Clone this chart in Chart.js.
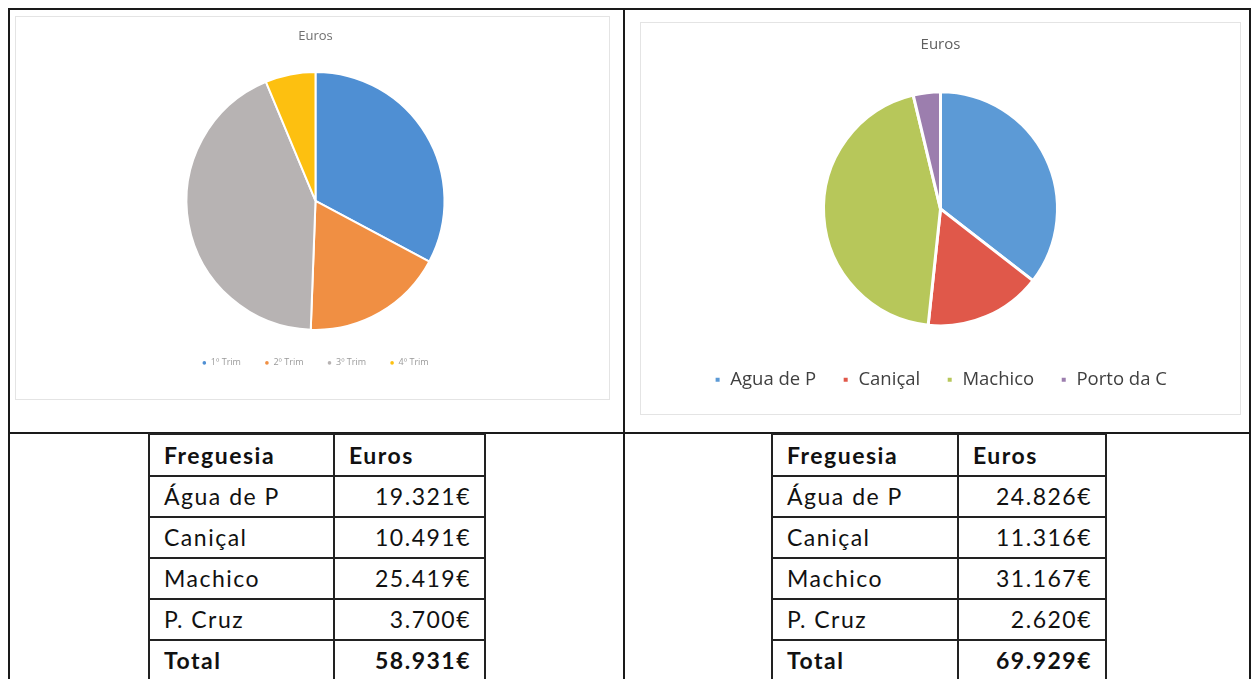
<!DOCTYPE html>
<html>
<head>
<meta charset="utf-8">
<script src="https://cdn.jsdelivr.net/npm/chart.js@4.4.1/dist/chart.umd.min.js"></script>
<style>
  html, body { margin:0; padding:0; background:#fff; }
  body { width:1255px; height:679px; position:relative; overflow:hidden; font-family: Lato, "Open Sans", sans-serif; }
  .ln { position:absolute; background:#1a1a1a; }
  .box { position:absolute; border:1px solid #e4e4e4; box-sizing:border-box; }
  canvas { position:absolute; }
  table.t { position:absolute; border-collapse:collapse; font-family: Lato, "Open Sans", sans-serif; font-size:23px; letter-spacing:1.5px; color:#111; }
  table.t td { border:2px solid #222; height:39px; padding:0 13px 0 14px; line-height:39px; box-sizing:content-box; }
  table.t tr.h td { height:40px; line-height:40px; }
  table.t td.v { text-align:right; }
  table.t tr.h td, table.t tr.tot td { font-weight:bold; }
</style>
</head>
<body>
<div class="ln" style="left:8px; top:8px; width:1243px; height:2px;"></div>
<div class="ln" style="left:8px; top:8px; width:2px; height:671px;"></div>
<div class="ln" style="left:623px; top:8px; width:2px; height:671px;"></div>
<div class="ln" style="left:1249px; top:8px; width:2px; height:671px;"></div>
<div class="ln" style="left:8px; top:432px; width:1243px; height:2px;"></div>

<div class="box" style="left:15px; top:16px; width:595px; height:384px;"></div>
<div class="box" style="left:640px; top:22px; width:601px; height:393px;"></div>

<canvas id="cL" width="595" height="384" style="left:15px; top:16px;"></canvas>
<canvas id="cR" width="601" height="393" style="left:640px; top:22px;"></canvas>

<table class="t" id="tL" style="left:148px; top:433px;"></table>
<table class="t" id="tR" style="left:771px; top:433px;"></table>

<script>
// ---- data ----
const trimLabels = ['1º Trim', '2º Trim', '3º Trim', '4º Trim'];
const trimValues = [19321, 10491, 25419, 3700];
const fregLabels = ['Agua de P', 'Caniçal', 'Machico', 'Porto da C'];
const fregValues = [24826, 11316, 31167, 2620];
const tableHeader = ['Freguesia', 'Euros'];
const tableRowLabels = ['Água de P', 'Caniçal', 'Machico', 'P. Cruz'];
const totalLabel = 'Total';

const trimColors = ['#4f8fd3', '#f08f43', '#b7b3b3', '#fdc010'];
const fregColors = ['#5c9ad6', '#e0584a', '#b7c75a', '#9c7eae'];

function fmt(n) {
  const s = String(n);
  let out = '';
  for (let i = 0; i < s.length; i++) {
    if (i > 0 && (s.length - i) % 3 === 0) out += '.';
    out += s[i];
  }
  return out + '€';
}

function buildTable(id, values, w1, w2) {
  const t = document.getElementById(id);
  let html = '<tr class="h"><td style="width:' + (w1 - 29) + 'px">' + tableHeader[0] + '</td><td style="width:' + (w2 - 29) + 'px">' + tableHeader[1] + '</td></tr>';
  tableRowLabels.forEach((l, i) => {
    html += '<tr><td>' + l + '</td><td class="v">' + fmt(values[i]) + '</td></tr>';
  });
  const total = values.reduce((a, b) => a + b, 0);
  html += '<tr class="tot"><td>' + totalLabel + '</td><td class="v">' + fmt(total) + '</td></tr>';
  t.innerHTML = html;
}
buildTable('tL', trimValues, 185, 151);
buildTable('tR', fregValues, 186, 148);

new Chart(document.getElementById('cL'), {
  type: 'pie',
  data: { labels: trimLabels, datasets: [{ data: trimValues, backgroundColor: trimColors, borderColor: '#ffffff', borderWidth: 2 }] },
  options: {
    responsive: false, animation: false,
    radius: 129,
    layout: { padding: { top: 0, bottom: 22.6, left: 6 } },
    plugins: {
      title: { display: true, text: 'Euros', color: '#707070', font: { family: 'Open Sans', size: 13, weight: 'normal' }, padding: { top: 12, bottom: 23.8 } },
      legend: { position: 'bottom', labels: { usePointStyle: true, pointStyle: 'circle', boxWidth: 4, boxHeight: 4, color: '#9a9a9a', font: { family: 'Open Sans', size: 9 }, padding: 24 } },
      tooltip: { enabled: false }
    }
  }
});

new Chart(document.getElementById('cR'), {
  type: 'pie',
  data: { labels: fregLabels, datasets: [{ data: fregValues, backgroundColor: fregColors, borderColor: '#ffffff', borderWidth: 3 }] },
  options: {
    responsive: false, animation: false,
    radius: 117,
    layout: { padding: { top: 0, bottom: 16 } },
    plugins: {
      title: { display: true, text: 'Euros', color: '#606060', font: { family: 'Open Sans', size: 15, weight: 'normal' }, padding: { top: 14, bottom: 19.2 } },
      legend: { position: 'bottom', labels: { usePointStyle: true, pointStyle: 'rect', boxWidth: 7, boxHeight: 7, color: '#404040', font: { family: 'Open Sans', size: 18.5 }, padding: 26 } },
      tooltip: { enabled: false }
    }
  }
});
</script>
</body>
</html>
